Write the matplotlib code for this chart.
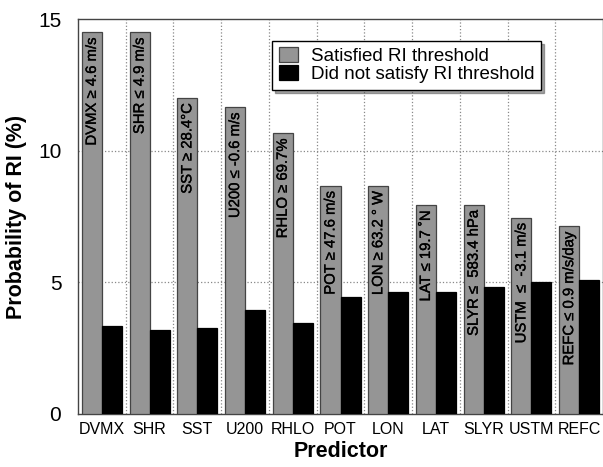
import matplotlib
matplotlib.use('Agg')
import matplotlib.pyplot as plt
import matplotlib.patheffects as pe
import numpy as np

plt.rcParams['font.family'] = ['Liberation Sans', 'DejaVu Sans']

# values
predictors = ['DVMX', 'SHR', 'SST', 'U200', 'RHLO', 'POT', 'LON', 'LAT', 'SLYR', 'USTM', 'REFC']
satisfied = [14.5, 14.5, 12.0, 11.66, 10.67, 8.67, 8.67, 7.94, 7.94, 7.46, 7.14]
not_satisfied = [3.35, 3.18, 3.25, 3.94, 3.44, 4.44, 4.63, 4.62, 4.83, 5.02, 5.09]
thresholds = ['DVMX \u2265 4.6 m/s', 'SHR \u2264 4.9 m/s', 'SST \u2265 28.4\u00b0C',
              'U200 \u2264 -0.6 m/s', 'RHLO \u2265 69.7%', 'POT \u2265 47.6 m/s',
              'LON \u2265 63.2 \u00b0 W', 'LAT \u2264 19.7 \u02daN', 'SLYR \u2264  583.4 hPa',
              'USTM  \u2264  -3.1 m/s', 'REFC \u2264 0.9 m/s/day']

fig = plt.figure(figsize=(6.03, 4.67), dpi=100)
ax = fig.add_axes([0.1294, 0.1135, 0.8706, 0.8458])

x = np.arange(len(predictors))
w = 0.42
grey = '#959595'
ax.bar(x - w/2, satisfied, w, color=grey, edgecolor='#444444', linewidth=0.9,
       label='Satisfied RI threshold', zorder=3)
ax.bar(x + w/2, not_satisfied, w, color='black', edgecolor='black', linewidth=0.9,
       label='Did not satisfy RI threshold', zorder=3)

# threshold text inside the grey bars
for xi, h, t in zip(x, satisfied, thresholds):
    ax.text(xi - w/2, h - 0.2, t, rotation=90, ha='center', va='top',
            fontsize=10.7, color='black', zorder=4,
            path_effects=[pe.withStroke(linewidth=0.25, foreground='black')])

ax.set_xlim(-0.5, len(predictors) - 0.5)
ax.set_ylim(0, 15)
ax.set_yticks([0, 5, 10, 15])
ax.set_xticks(x)
ax.set_xticklabels(predictors, fontsize=11.5)
ax.tick_params(axis='y', labelsize=15, length=0, pad=12)
ax.tick_params(axis='x', length=0, pad=6)

for b in np.arange(0.5, len(predictors) - 0.5, 1.0):
    ax.axvline(b, color='#888888', linestyle=':', linewidth=0.9, zorder=1)
for yv in [5, 10]:
    ax.axhline(yv, color='#888888', linestyle=':', linewidth=0.9, zorder=1)

for s in ax.spines.values():
    s.set_color('#444444')
    s.set_linewidth(1.0)

ax.set_ylabel('Probability of RI (%)', fontsize=15.5, fontweight='bold', labelpad=8)
ax.set_xlabel('Predictor', fontsize=15.5, fontweight='bold', labelpad=3)

leg = ax.legend(loc='upper left', bbox_to_anchor=(0.37, 0.945), fontsize=13.5,
                frameon=True, fancybox=False, shadow=True, handlelength=1.0,
                handleheight=0.85, handletextpad=0.7, labelspacing=0.0,
                borderpad=0.35, borderaxespad=0)
leg.get_frame().set_edgecolor('black')
leg.get_frame().set_linewidth(1.0)

fig.savefig('out.png', dpi=100)
